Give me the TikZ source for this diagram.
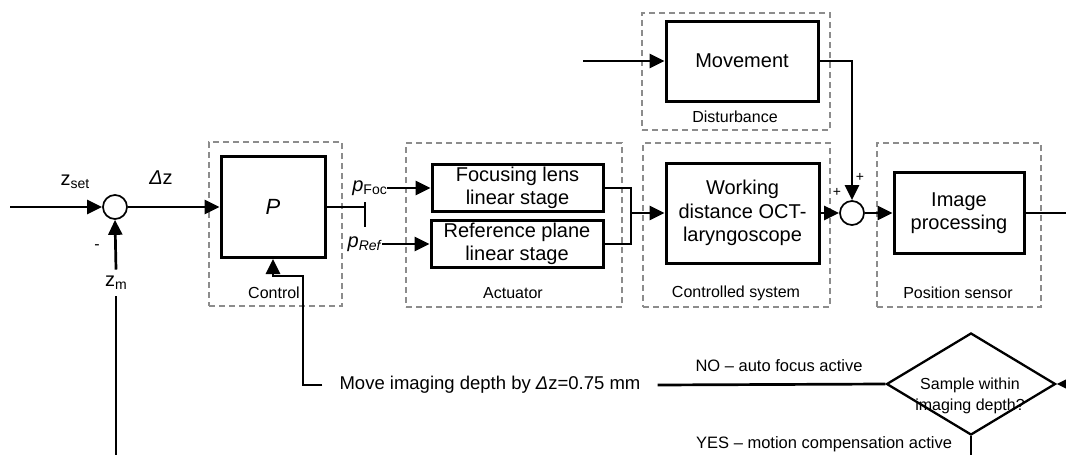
\documentclass[tikz,border=0pt]{standalone}
\usepackage{fontspec}
\setmainfont{Liberation Sans}
\usetikzlibrary{arrows.meta,shapes.geometric}
\newcommand{\lowsub}[1]{\raisebox{-3pt}{\fontsize{14}{14}\selectfont #1}}
\begin{document}
\begin{tikzpicture}[x=1pt,y=-1pt,
  blk/.style={draw, line width=3pt, inner sep=0pt, align=center, font=\fontsize{20}{23.5}\selectfont},
  grp/.style={draw=black!45, line width=1.1pt, dash pattern=on 6pt off 4pt, inner sep=0pt},
  sumj/.style={circle, draw, line width=1.7pt, minimum size=24pt, inner sep=0pt},
  conn/.style={line width=2.7pt},
  arr/.style={conn, -{Triangle[length=15pt,width=14pt]}},
  lbl/.style={font=\fontsize{16}{19}\selectfont, inner sep=0pt},
  sym/.style={font=\fontsize{20}{23}\selectfont, inner sep=0pt},
]
\useasboundingbox (0,0) rectangle (1066,455);
\clip (0,0) rectangle (1066,455);

% groups
\node[grp, minimum width=133pt, minimum height=164pt] (gctl) at (275.5,224) {};
\node[grp, minimum width=216pt, minimum height=164pt] (gact) at (514,225) {};
\node[grp, minimum width=187pt, minimum height=164pt] (gsys) at (736.5,225) {};
\node[grp, minimum width=164pt, minimum height=164pt] (gsen) at (959,225) {};
\node[grp, minimum width=188pt, minimum height=117pt] (gdis) at (736,71.5) {};

\node[lbl] (lctl) at (274,293) {Control};
\node[lbl] (lact) at (513,293) {Actuator};
\node[lbl] (lsys) at (736,293) {Controlled system};
\node[lbl] (lsen) at (958,293) {Position sensor};
\node[lbl] (ldis) at (735,117) {Disturbance};

% blocks
\node[blk, minimum width=104pt, minimum height=101pt] (P) at (273,207) {\fontsize{22}{22}\selectfont\textit{P}};
\node[blk, minimum width=171pt, minimum height=47pt] (foc) at (517.5,188) {Focusing lens\\linear stage};
\node[blk, minimum width=172pt, minimum height=47pt] (ref) at (517,244) {Reference plane\\linear stage};
\node[blk, minimum width=153pt, minimum height=100pt] (work) at (742.5,213) {Working\\distance OCT-\\laryngoscope};
\node[blk, minimum width=152pt, minimum height=80pt] (move) at (742,61) {Movement};
\node[blk, minimum width=130pt, minimum height=81pt] (img) at (959,213) {Image\\processing};
\node[sumj] (s1) at (115,207) {};
\node[sumj] (s2) at (852,213) {};
\node[diamond, draw, line width=2.3pt, minimum width=169pt, minimum height=102pt, aspect=1.66, inner sep=0pt] (dec) at (971,384) {};
\node[lbl, align=center, font=\fontsize{16}{21}\selectfont] (dect) at (970,396) {Sample within\\imaging depth?};

% labels
\node[sym] (zset) at (75,182) {z\lowsub{set}};
\node[sym] (dz) at (161,178) {\textit{Δ}z};
\node[sym, inner xsep=3pt, inner ysep=6.5pt] (zm) at (116,283) {z\lowsub{m}};
\node[lbl] (minus) at (97,247) {-};
\node[lbl, font=\fontsize{14}{14}\selectfont] (plus1) at (837,192) {+};
\node[lbl, font=\fontsize{14}{14}\selectfont] (plus2) at (860,177) {+};
\node[sym, anchor=east] (pfocl) at (387,188) {\textit{p}\lowsub{Foc}};
\node[sym, anchor=east] (prefl) at (382,244) {\textit{p}\lowsub{\textit{Ref}}};
\node[font=\fontsize{18.5}{20}\selectfont, inner xsep=17pt, inner ysep=0pt] (mv) at (490,385) {Move imaging depth by \textit{Δ}z=0.75 mm};
\node[lbl, font=\fontsize{16.5}{19}\selectfont] (no) at (779,366) {NO – auto focus active};
\node[lbl, anchor=west, font=\fontsize{16.5}{19}\selectfont] (yes) at (696,444) {YES – motion compensation active};

% connectors
\coordinate (zin) at (10,207);
\draw[arr] (zin) -- (s1.west);
\draw[arr] (s1.east) -- (P.west);
\coordinate (split) at (365,207);
\coordinate (barT) at (365,202);
\coordinate (barB) at (365,227);
\draw[conn] (P.east) -- (split);
\draw[conn] (barT) -- (barB);
\draw[arr] (pfocl.east) -- (foc.west);
\draw[arr] (prefl.east) -- (ref.west);
\coordinate (mj) at (631,213);
\draw[conn] (foc.east) -| (mj) |- (ref.east);
\draw[arr] (mj) -- (work.west);
\draw[arr] (work.east) -- (s2.west);
\coordinate (din) at (583,61);
\draw[arr] (din) -- (move.west);
\draw[arr] (move.east) -| (s2.north);
\draw[arr] (s2.east) -- (img.west);
\coordinate (outR) at (1100,300);
\draw[arr] (img.east) -| (outR) |- (dec.east);
\coordinate (fb) at (116,480);
\draw[conn] (dec.south) |- (fb) -- (zm.south);
\draw[arr] (zm.north) -- (s1.south);
\draw[conn] (dec.west) -- (mv.east);
\coordinate (c1) at (303,276);
\draw[arr] (mv.west) -| (c1) -| (P.south);
\end{tikzpicture}
\end{document}
